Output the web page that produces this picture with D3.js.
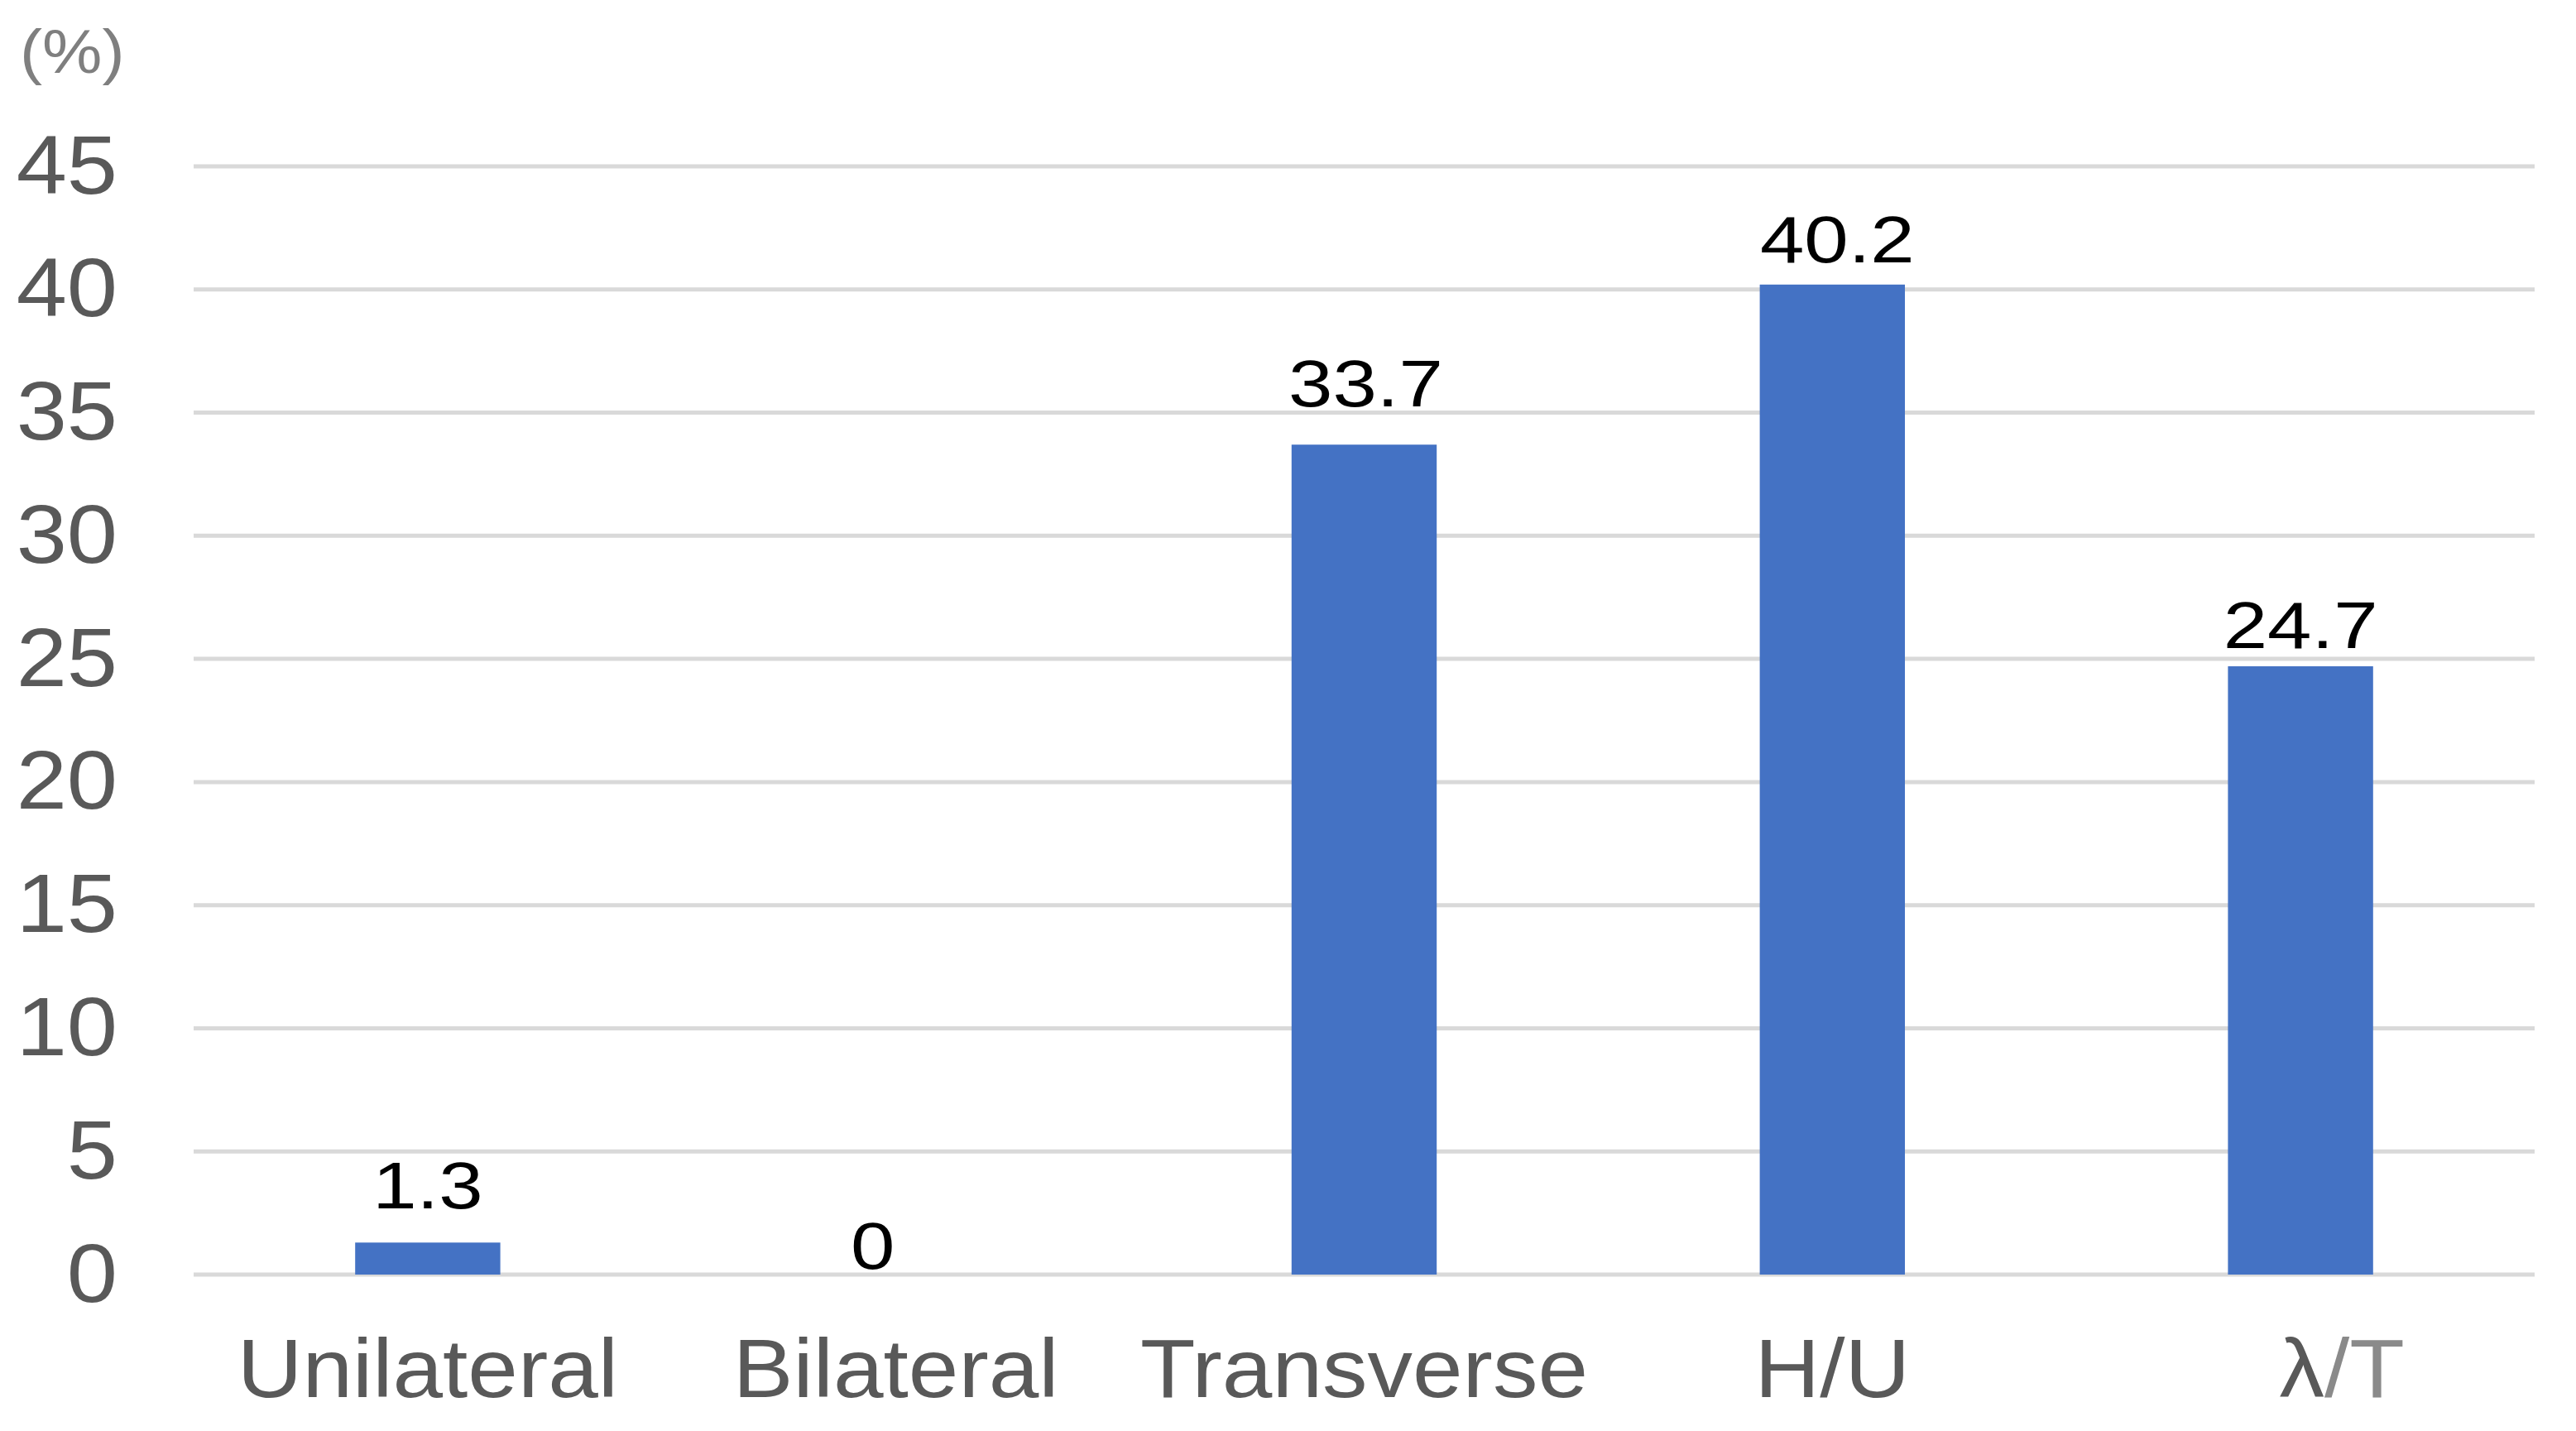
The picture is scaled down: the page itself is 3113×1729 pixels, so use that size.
<!DOCTYPE html>
<html>
<head>
<meta charset="utf-8">
<script src="https://cdn.jsdelivr.net/npm/d3@7"></script>
<style>
  html, body { margin: 0; padding: 0; background: #ffffff; }
  svg { display: block; }
  text { font-family: "Liberation Sans", Arial, sans-serif; }
</style>
</head>
<body>
<svg id="chart" width="3113" height="1729"></svg>
<script>
// ---- data ----
const categories = ["Unilateral", "Bilateral", "Transverse", "H/U", "λ/T"];
const values = [1.3, 0, 33.7, 40.2, 24.7];
const valueLabels = ["1.3", "0", "33.7", "40.2", "24.7"];
const yTicks = [0, 5, 10, 15, 20, 25, 30, 35, 40, 45];
const yUnit = "(%)";

// ---- layout (label placement tweaks as in the original) ----
const labelGap = [41, 7, 46, 27, 22];
const labelDx = [0, -28, 2, 6, 0];
const catDx = [0, 0, 0, 0, 50];

const W = 3113, H = 1729;
const plot = { left: 234, right: 3063, top: 201, bottom: 1540 };

const svg = d3.select("#chart");
svg.append("rect").attr("width", W).attr("height", H).attr("fill", "#ffffff");

const x = d3.scaleBand()
  .domain(categories)
  .range([plot.left, plot.right])
  .paddingInner(0.69)
  .paddingOuter(0.345);

const y = d3.scaleLinear()
  .domain([0, 45])
  .range([plot.bottom, plot.top]);

// gridlines
svg.append("g").selectAll("line")
  .data(yTicks)
  .join("line")
  .attr("x1", plot.left).attr("x2", plot.right)
  .attr("y1", d => y(d)).attr("y2", d => y(d))
  .attr("stroke", "#d9d9d9")
  .attr("stroke-width", 5);

// y axis tick labels
const yAxis = d3.axisLeft(y).tickValues(yTicks).tickSize(0).tickPadding(0);
const gy = svg.append("g").attr("transform", "translate(142,0)").call(yAxis);
gy.select(".domain").remove();
gy.selectAll("text")
  .attr("font-size", 100)
  .attr("font-family", "'Liberation Sans', Arial, sans-serif")
  .attr("fill", "#595959")
  .attr("dy", null)
  .attr("x", 0)
  .attr("y", 0)
  .attr("dominant-baseline", "alphabetic")
  .attr("text-anchor", "end");
gy.selectAll(".tick").each(function(d) {
  d3.select(this).select("text")
    .attr("transform", "translate(0,32) scale(1.1,1)");
});

// unit label
svg.append("text")
  .attr("transform", "translate(24,88) scale(1.1,1)")
  .attr("font-size", 74)
  .attr("fill", "#7f7f7f")
  .text(yUnit);

// bars
svg.append("g").selectAll("rect")
  .data(values)
  .join("rect")
  .attr("x", (d, i) => x(categories[i]))
  .attr("width", x.bandwidth())
  .attr("y", d => y(d))
  .attr("height", d => y(0) - y(d))
  .attr("fill", "#4472c4");

// data labels
svg.append("g").selectAll("text")
  .data(values)
  .join("text")
  .attr("transform", (d, i) =>
    `translate(${x(categories[i]) + x.bandwidth() / 2 + labelDx[i]},${y(d) - labelGap[i]}) scale(1.2,1)`)
  .attr("text-anchor", "middle")
  .attr("font-size", 80)
  .attr("fill", "#000000")
  .text((d, i) => valueLabels[i]);

// x axis category labels
const xAxis = d3.axisBottom(x).tickSize(0).tickPadding(0);
const gx = svg.append("g").attr("transform", `translate(0,${plot.bottom})`).call(xAxis);
gx.select(".domain").remove();
gx.selectAll(".tick").each(function(d, i) {
  const t = d3.select(this).select("text");
  t.attr("dy", null).attr("y", 0).attr("x", 0)
    .attr("font-size", 100)
    .attr("font-family", "'Liberation Sans', Arial, sans-serif")
    .attr("fill", "#595959")
    .attr("text-anchor", "middle")
    .attr("transform", `translate(${catDx[i]},148) scale(1.09,1)`);
  if (d === "λ/T") {
    t.text(null);
    t.append("tspan").attr("fill", "#595959").text("λ");
    t.append("tspan").attr("fill", "#8a8a8a").text("/T");
  }
});
</script>
</body>
</html>
